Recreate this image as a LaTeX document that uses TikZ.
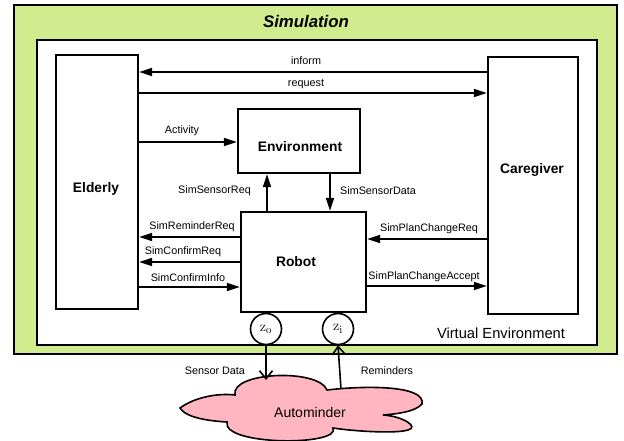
\documentclass[tikz,border=0pt]{standalone}
\usepackage[no-math]{fontspec}
\setmainfont{Liberation Sans}
\usetikzlibrary{arrows.meta}
\definecolor{simgreen}{RGB}{209,236,143}
\definecolor{cloudpink}{RGB}{255,182,193}
\begin{document}
\begin{tikzpicture}[x=1pt,y=-1pt,
  frame/.style={draw, line width=2.4pt, inner sep=0pt},
  block/.style={draw, line width=2.4pt, fill=white, inner sep=0pt},
  title/.style={font=\fontsize{13.8}{16}\selectfont\bfseries, inner sep=0pt},
  msg/.style={line width=1.6pt, -{Triangle[length=13pt,width=8pt]}},
  lbl/.style={font=\fontsize{10.8}{12}\selectfont, inner sep=0pt},
  port/.style={draw, circle, line width=1.6pt, fill=white,
    minimum size=31pt, inner sep=0pt, font=\fontsize{15}{16}\selectfont},
  feed/.style={line width=1.6pt,
    -{Straight Barb[length=8pt,width=13pt,line width=1.6pt]}}]
\useasboundingbox (0,0) rectangle (624,441);

% simulation and virtual environment frames
\node[frame, fill=simgreen, minimum width=603pt, minimum height=349pt] (sim) at (315.5,179.5) {};
\node[font=\fontsize{16.8}{18}\selectfont\bfseries\itshape] (simtitle) at (306,21) {Simulation};
\node[frame, fill=white, minimum width=560pt, minimum height=305pt] (venv) at (317,192.5) {};
\node[font=\fontsize{14.7}{16}\selectfont] (venvtitle) at (501,333) {Virtual Environment};

% agents
\node[block, minimum width=82pt, minimum height=254pt] (eld) at (97,182) {};
\node[title] (eld-t) at (96,189) {Elderly};
\node[block, minimum width=90pt, minimum height=257pt] (care) at (533,185.5) {};
\node[title] (care-t) at (532,170) {Caregiver};
\node[block, minimum width=122pt, minimum height=64pt] (env) at (299,141) {};
\node[title] (env-t) at (300,147) {Environment};
\node[block, minimum width=125pt, minimum height=100pt] (robot) at (303.5,262) {};
\node[title] (robot-t) at (296,262) {Robot};

% robot ports
\node[port] (zo) at (266,329) {$\mathrm{z}_{\mathrm{o}}$};
\node[port] (zi) at (338,329) {$\mathrm{z}_{\mathrm{i}}$};

% messages
\draw[msg] (care.west |- 0,72) -- (eld.east |- 0,72);
\node[lbl] (l-inform) at (306,61) {inform};
\draw[msg] (eld.east |- 0,93) -- (care.west |- 0,93);
\node[lbl] (l-request) at (306,84) {request};
\draw[msg] (eld.east |- 0,142) -- (env.west |- 0,142);
\node[lbl] (l-activity) at (182,131) {Activity};
\draw[msg] (robot.north -| 267,0) -- (env.south -| 267,0);
\node[lbl] (l-sreq) at (214.5,191) {SimSensorReq};
\draw[msg] (env.south -| 330,0) -- (robot.north -| 330,0);
\node[lbl] (l-sdata) at (378,191) {SimSensorData};
\draw[msg] (robot.west |- 0,237) -- (eld.east |- 0,237);
\node[lbl] (l-remreq) at (192,227) {SimReminderReq};
\draw[msg] (robot.west |- 0,262) -- (eld.east |- 0,262);
\node[lbl] (l-confreq) at (183,252) {SimConfirmReq};
\draw[msg] (eld.east |- 0,287) -- (robot.west |- 0,287);
\node[lbl] (l-confinfo) at (188,278) {SimConfirmInfo};
\draw[msg] (care.west |- 0,239) -- (robot.east |- 0,239);
\node[lbl] (l-pcreq) at (429,229) {SimPlanChangeReq};
\draw[msg] (robot.east |- 0,286) -- (care.west |- 0,286);
\node[lbl] (l-pcacc) at (424,277) {SimPlanChangeAccept};

% Autominder cloud
\draw[line width=1.6pt, fill=cloudpink]
  (180,408) .. controls (195,397) and (218,393) .. (235,395)
  .. controls (230,372) and (318,368) .. (327,390)
  .. controls (370,385) and (426,386) .. (422,404)
  .. controls (415,412) and (396,414) .. (383,415)
  .. controls (402,416) and (420,427) .. (408,430)
  .. controls (395,434) and (352,431) .. (333,428)
  .. controls (342,446) and (222,446) .. (227,422)
  .. controls (210,421) and (186,418) .. (180,408) -- cycle;
\node[font=\fontsize{14}{16}\selectfont] (autominder) at (310,412) {Autominder};
\coordinate (cloud-in) at (266,380);
\coordinate (cloud-out) at (341,389);

% sensing and reminding
\draw[feed] (zo.south) -- (cloud-in);
\node[lbl] (l-sensor) at (215,371) {Sensor Data};
\draw[feed] (cloud-out) -- (zi.south);
\node[lbl] (l-remind) at (387,371) {Reminders};
\end{tikzpicture}
\end{document}
